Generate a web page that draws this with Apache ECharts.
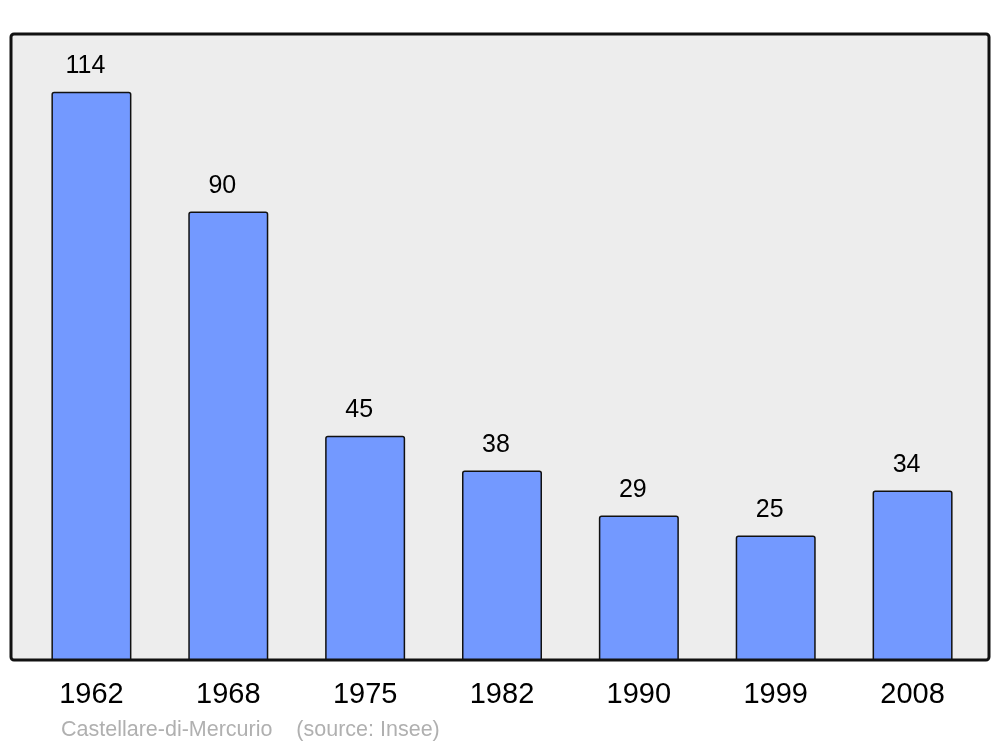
<!DOCTYPE html>
<html>
<head>
<meta charset="utf-8">
<script src="https://cdn.jsdelivr.net/npm/echarts@6/dist/echarts.min.js"></script>
<style>
  html, body { margin: 0; padding: 0; background: #fff; }
  #chart { width: 1000px; height: 747px; }
</style>
</head>
<body>
<div id="chart"></div>
<script>
const years = ["1962", "1968", "1975", "1982", "1990", "1999", "2008"];
const population = [114, 90, 45, 38, 29, 25, 34];
const footer = "Castellare-di-Mercurio    (source: Insee)";

const chart = echarts.init(document.getElementById("chart"));
chart.setOption({
    animation: false,
    textStyle: { fontFamily: "Liberation Sans, Arial, sans-serif" },
    grid: { left: 23, right: 19, top: 34, bottom: 87 },
    graphic: [
        {
            type: "rect",
            shape: { x: 11, y: 34, width: 978, height: 626, r: 3 },
            style: { fill: "#ededed", stroke: "#111", lineWidth: 3 },
            z: -10
        },
        {
            type: "text",
            left: 61,
            top: 719,
            style: { text: footer, fill: "#b0b0b0", font: "21.5px Liberation Sans, Arial, sans-serif" }
        }
    ],
    xAxis: {
        type: "category",
        data: years,
        axisLine: { show: false },
        axisTick: { show: false },
        axisLabel: { color: "#000", fontSize: 29, margin: 20 }
    },
    yAxis: {
        type: "value",
        min: 0,
        max: 125.6,
        show: false,
        splitLine: { show: false }
    },
    series: [
        {
            type: "bar",
            data: population,
            barWidth: 80,
            itemStyle: {
                color: "#7399ff",
                borderColor: "#111",
                borderWidth: 1.5,
                borderRadius: [2, 2, 0, 0]
            },
            label: {
                show: true,
                position: "top",
                distance: 13,
                offset: [-6, 0],
                color: "#000",
                fontSize: 25
            }
        }
    ]
});
</script>
</body>
</html>
